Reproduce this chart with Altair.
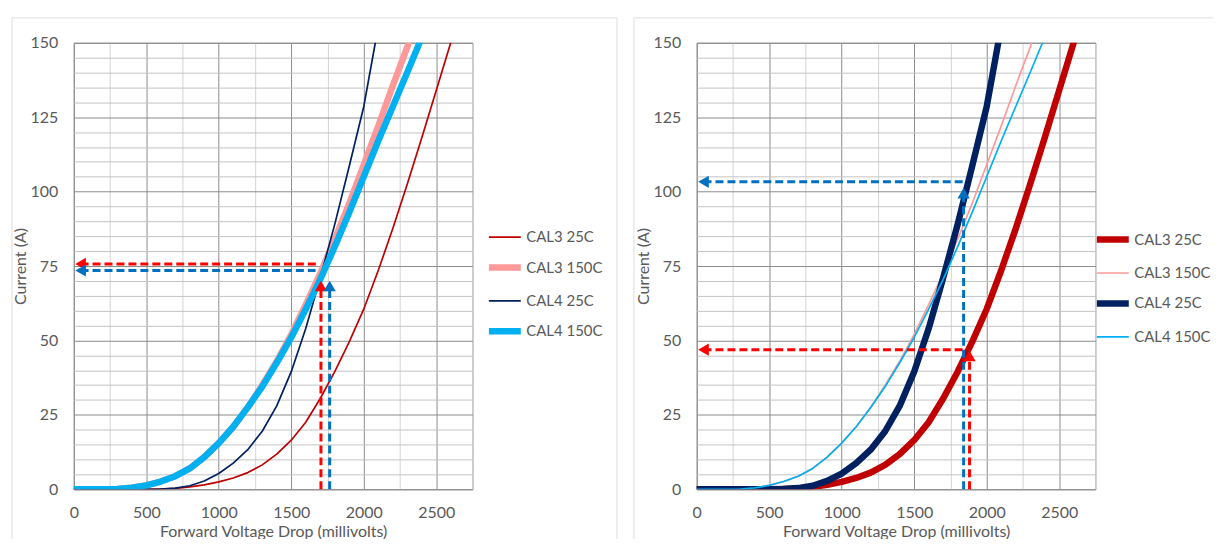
import altair as alt
import pandas as pd

# ---------------- data ----------------
series_names = ["CAL3 25C", "CAL3 150C", "CAL4 25C", "CAL4 150C"]
series_colors = ["#c00000", "#ff9999", "#002060", "#00b0f0"]

cal3_25c_mv = [0, 500, 600, 700, 800, 900, 1000, 1100, 1200, 1300, 1400, 1500,
               1600, 1700, 1800, 1900, 2000, 2100, 2200, 2300, 2400, 2500, 2600]
cal3_25c_a = [0, 0, 0.1, 0.3, 0.8, 1.5, 2.5, 3.8, 5.6, 8.2, 11.8, 16.5,
              22.5, 30.5, 39.5, 49.5, 60.5, 73.5, 87.5, 102.5, 118, 134, 150]

cal3_150c_mv = [0, 200, 300, 400, 500, 600, 700, 800, 900, 1000, 1100, 1200,
                1300, 1400, 1500, 1600, 1700, 1800, 1900, 2000, 2100, 2200, 2300, 2310]
cal3_150c_a = [0, 0, 0.1, 0.5, 1.3, 2.6, 4.4, 7.0, 10.8, 15.5, 21.0, 27.5,
               35.0, 43.0, 52.0, 62.0, 72.5, 84.0, 96.0, 109.0, 122.0, 135.5, 148.5, 150]

cal4_25c_mv = [0, 500, 600, 700, 800, 900, 1000, 1100, 1200, 1300, 1400, 1500,
               1600, 1700, 1800, 1900, 2000, 2080]
cal4_25c_a = [0, 0, 0.1, 0.4, 1.2, 2.8, 5.3, 8.8, 13.3, 19.5, 28.0, 39.5,
              54.0, 71.0, 89.0, 108.5, 128.5, 150]

cal4_150c_mv = [0, 200, 300, 400, 500, 600, 700, 800, 900, 1000, 1100, 1200,
                1300, 1400, 1500, 1600, 1700, 1800, 1900, 2000, 2100, 2200, 2300, 2385]
cal4_150c_a = [0, 0, 0.1, 0.5, 1.3, 2.6, 4.4, 7.0, 10.8, 15.5, 21.0, 27.5,
               34.5, 42.5, 51.0, 60.5, 70.5, 81.5, 93.0, 105.0, 117.0, 128.5, 140.0, 150]

x_ticks = [0, 250, 500, 750, 1000, 1250, 1500, 1750, 2000, 2250, 2500, 2750]
y_ticks = [0, 5, 10, 15, 20, 25, 30, 35, 40, 45, 50, 55, 60, 65, 70, 75, 80, 85,
           90, 95, 100, 105, 110, 115, 120, 125, 130, 135, 140, 145, 150]

left_widths = [1.7, 6.5, 1.7, 6.5]
right_widths = [6.5, 1.7, 6.5, 1.7]

# dashed annotation arrows (data units)
left_h_y = [75.7, 73.5]
left_h_end = [1672, 1668]
left_h_color = ["#ff0000", "#0070c0"]
left_v_x = [1705, 1765]
left_v_head = [68.3, 68.3]
left_v_color = ["#ff0000", "#0070c0"]

right_h_y = [103.3, 46.9]
right_h_end = [1845, 1835]
right_h_color = ["#0070c0", "#ff0000"]
right_v_x = [1841, 1882]
right_v_head = [99.5, 44.8]
right_v_color = ["#0070c0", "#ff0000"]

arrow_start_mv = 47

# ---------------- tables ----------------
rows = []
for name, xs, ys in [
    ("CAL3 25C", cal3_25c_mv, cal3_25c_a),
    ("CAL3 150C", cal3_150c_mv, cal3_150c_a),
    ("CAL4 25C", cal4_25c_mv, cal4_25c_a),
    ("CAL4 150C", cal4_150c_mv, cal4_150c_a),
]:
    for v, i in zip(xs, ys):
        rows.append({"series": name, "V": v, "I": i})
lines_df = pd.DataFrame(rows)

FONT = "Lato"
TXT = "#595959"
MAJOR = "#8c8c8c"
MINOR_X = "#d4d4d4"
MINOR_Y = "#c4c4c4"

x_axis = alt.Axis(
    values=x_ticks, format="d",
    labelExpr="datum.value % 500 === 0 ? datum.label : ''",
    labelOverlap=False, labelFlush=False,
    gridColor={"condition": {"test": "datum.value % 500 === 0", "value": MAJOR}, "value": MINOR_X},
    ticks=False, tickSize=0, domain=False,
    labelFont=FONT, labelFontSize=16, labelColor=TXT, labelPadding=15,
    title="Forward Voltage Drop (millivolts)", titleFont=FONT, titleFontSize=16,
    titleFontWeight="normal", titleColor=TXT, titlePadding=3,
)
y_axis = alt.Axis(
    values=y_ticks, format="d",
    labelExpr="datum.value % 25 === 0 ? datum.label : ''",
    labelOverlap=False,
    gridColor={"condition": {"test": "datum.value % 25 === 0", "value": MAJOR}, "value": MINOR_Y},
    ticks=False, tickSize=0, domain=False,
    labelFont=FONT, labelFontSize=16, labelColor=TXT, labelPadding=16,
    title="Current (A)", titleFont=FONT, titleFontSize=16,
    titleFontWeight="normal", titleColor=TXT, titlePadding=2,
)

x_scale = alt.Scale(domain=[0, 2750], nice=False, zero=False)
y_scale = alt.Scale(domain=[0, 150], nice=False, zero=False)


def ex(field):
    return alt.X(field, type="quantitative", scale=x_scale, axis=x_axis)


def ey(field):
    return alt.Y(field, type="quantitative", scale=y_scale, axis=y_axis)


def make_panel(widths, h_y, h_end, h_color, v_x, v_head, v_color, box, legend_x):
    legend = alt.Legend(
        title=None, orient="none", legendX=legend_x, legendY=178,
        symbolType="stroke", symbolSize=1024, rowPadding=3, labelOffset=2,
        labelFont=FONT, labelFontSize=15, labelColor=TXT,
    )
    lines = alt.Chart(lines_df).mark_line(strokeCap="round", strokeJoin="round", clip=True).encode(
        x=ex("V"),
        y=ey("I"),
        color=alt.Color("series:N", scale=alt.Scale(domain=series_names, range=series_colors), legend=legend),
        strokeWidth=alt.StrokeWidth("series:N",
                                    scale=alt.Scale(type="ordinal", domain=series_names, range=widths),
                                    legend=legend),
    )

    hdf = pd.DataFrame({"y": h_y, "x0": [arrow_start_mv] * len(h_y), "x1": h_end, "c": h_color})
    vdf = pd.DataFrame({"x": v_x, "y0": [0] * len(v_x), "y1": v_head, "c": v_color})

    h_rules = alt.Chart(hdf).mark_rule(strokeDash=[8, 4], strokeWidth=3).encode(
        x=ex("x0"), x2="x1:Q", y=ey("y"),
        stroke=alt.Stroke("c:N", scale=None),
    )
    v_rules = alt.Chart(vdf).mark_rule(strokeDash=[8, 4], strokeWidth=3).encode(
        x=ex("x"), y=ey("y0"), y2="y1:Q",
        stroke=alt.Stroke("c:N", scale=None),
    )
    h_heads = alt.Chart(hdf).mark_point(shape="triangle-left", filled=True, size=150, opacity=1, strokeWidth=0).encode(
        x=ex("x0"), y=ey("y"),
        fill=alt.Fill("c:N", scale=None),
    )
    v_heads = alt.Chart(vdf).mark_point(shape="triangle-up", filled=True, size=150, opacity=1, strokeWidth=0).encode(
        x=ex("x"), y=ey("y1"),
        fill=alt.Fill("c:N", scale=None),
    )

    bl, bt, br, bb, draw_right = box
    one = alt.Data(values=[{"k": 0}])
    box_layers = [
        alt.Chart(one).mark_rule(color="#dedede", strokeWidth=1).encode(
            x=alt.value(bl), y=alt.value(bt), y2=alt.value(bb)),
        alt.Chart(one).mark_rule(color="#dedede", strokeWidth=1).encode(
            x=alt.value(bl), x2=alt.value(br), y=alt.value(bt)),
    ]
    if draw_right:
        box_layers.append(
            alt.Chart(one).mark_rule(color="#dedede", strokeWidth=1).encode(
                x=alt.value(br), y=alt.value(bt), y2=alt.value(bb)))

    return alt.layer(lines, *box_layers, h_rules, v_rules, h_heads, v_heads).properties(
        width=400, height=448
    )


left = make_panel(left_widths, left_h_y, left_h_end, left_h_color,
                  left_v_x, left_v_head, left_v_color, (-62, -25, 545, 520, True), 413)
right = make_panel(right_widths, right_h_y, right_h_end, right_h_color,
                   right_v_x, right_v_head, right_v_color, (-63, -25, 560, 520, False), 398)

chart = alt.hconcat(left, right, spacing=15).resolve_scale(
    color="independent", strokeWidth="independent"
).properties(
    padding={"left": 3, "top": 8, "right": -43, "bottom": -24},
    background="white",
).configure_view(stroke=MAJOR, strokeWidth=1)

chart.save("out.html", embed_options={"renderer": "svg", "actions": False})
